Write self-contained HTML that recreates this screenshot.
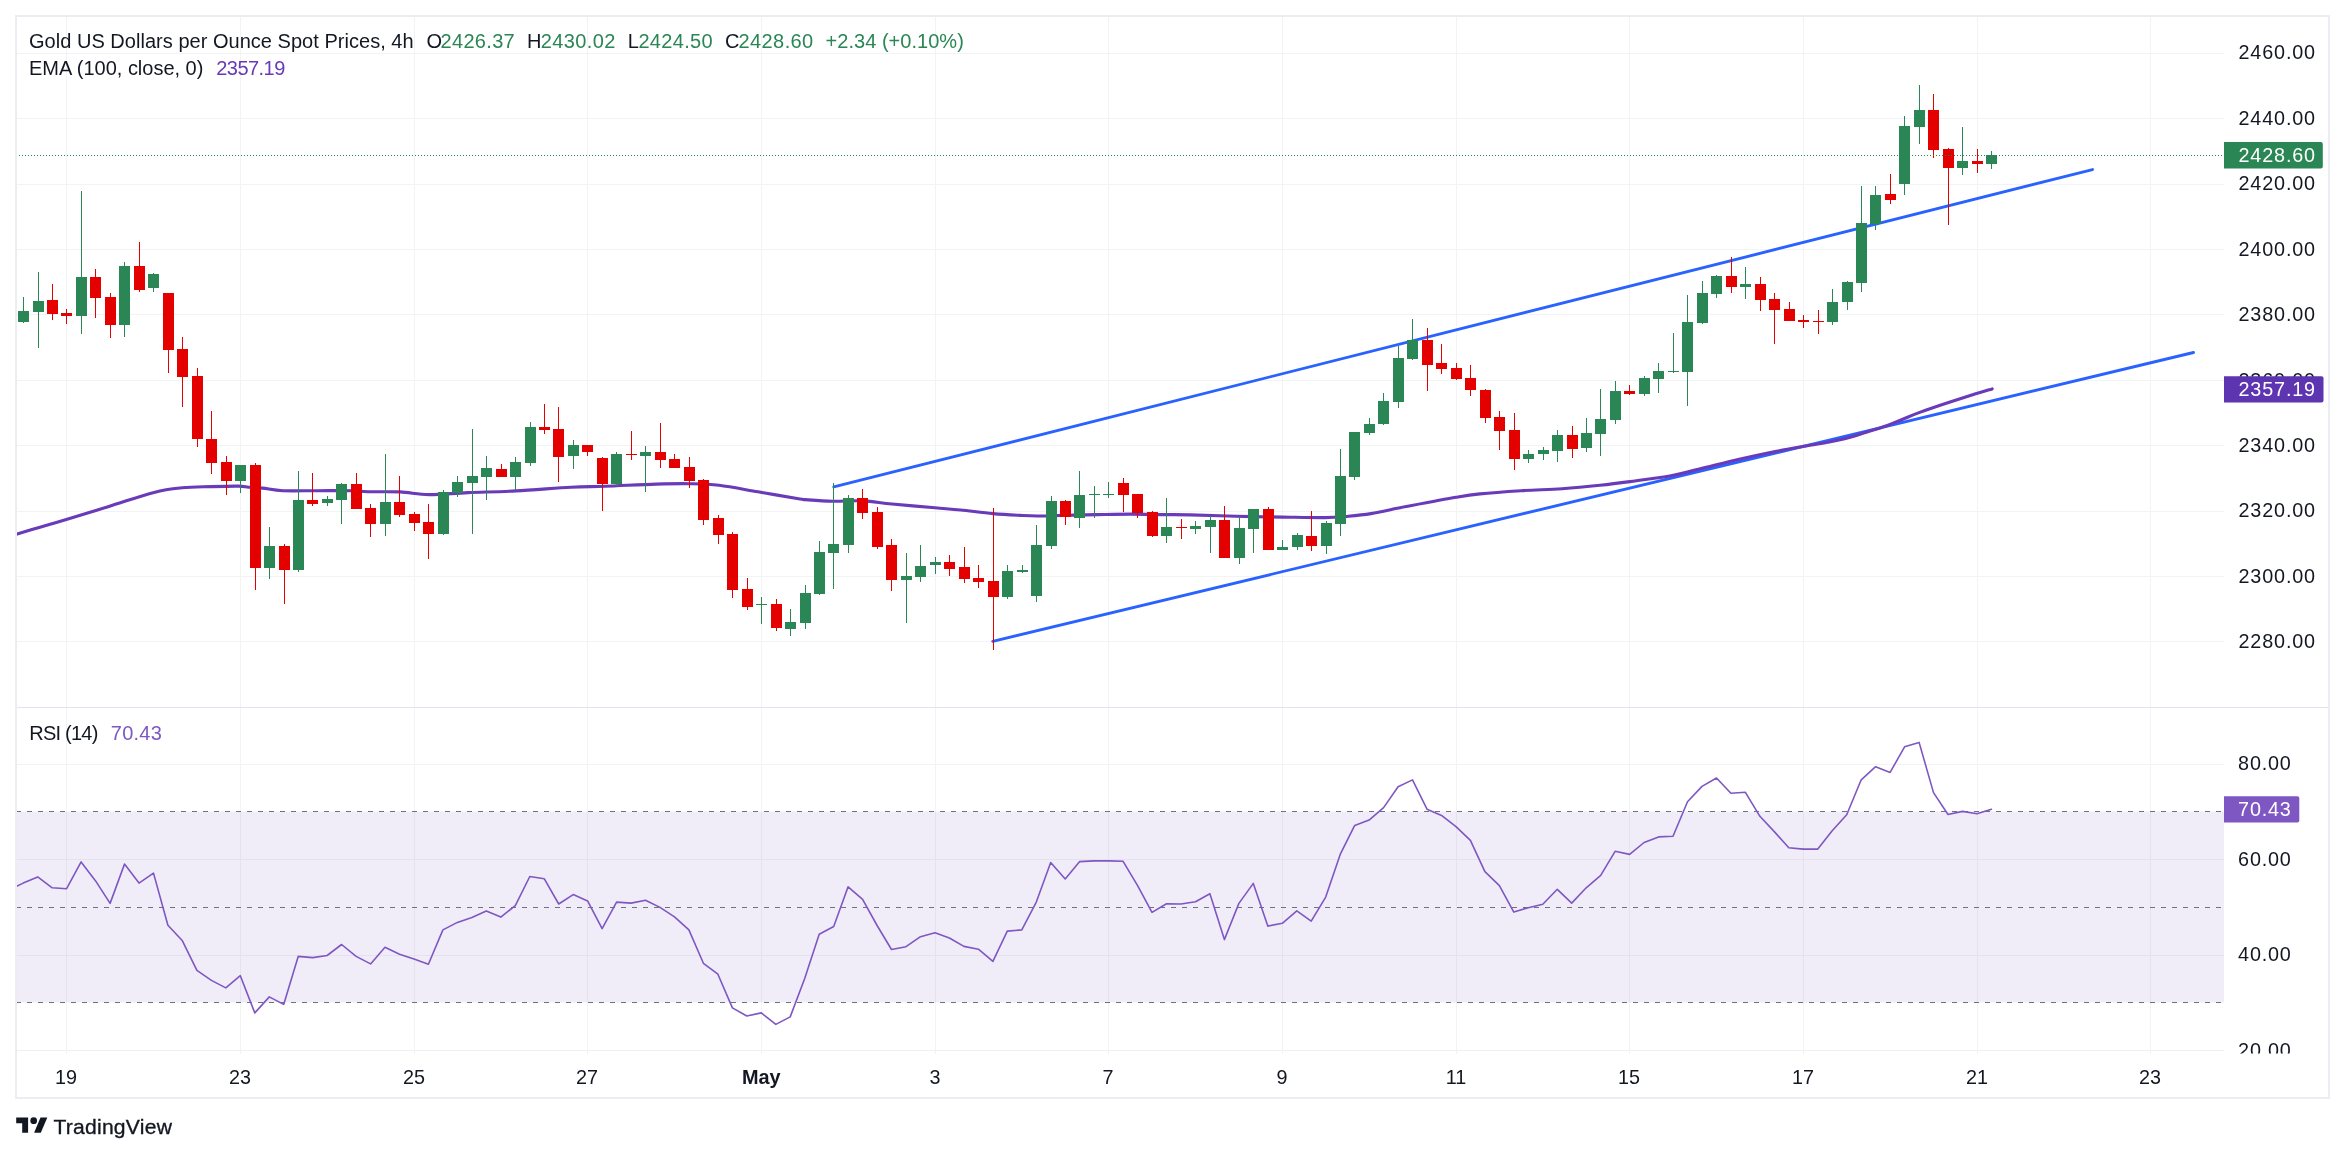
<!DOCTYPE html>
<html><head><meta charset="utf-8"><title>Gold chart</title>
<style>
html,body{margin:0;padding:0;background:#fff;}
body{width:2345px;height:1154px;position:relative;overflow:hidden;font-family:"Liberation Sans",sans-serif;}
</style></head><body>
<svg width="2345" height="1154" viewBox="0 0 2345 1154" style="position:absolute;left:0;top:0;will-change:transform">
<rect x="0" y="0" width="2345" height="1154" fill="#ffffff"/>
<g shape-rendering="crispEdges">
<rect x="66" y="16" width="1" height="1038" fill="#f2f3f4"/>
<rect x="240" y="16" width="1" height="1038" fill="#f2f3f4"/>
<rect x="414" y="16" width="1" height="1038" fill="#f2f3f4"/>
<rect x="587" y="16" width="1" height="1038" fill="#f2f3f4"/>
<rect x="761" y="16" width="1" height="1038" fill="#f2f3f4"/>
<rect x="935" y="16" width="1" height="1038" fill="#f2f3f4"/>
<rect x="1108" y="16" width="1" height="1038" fill="#f2f3f4"/>
<rect x="1282" y="16" width="1" height="1038" fill="#f2f3f4"/>
<rect x="1456" y="16" width="1" height="1038" fill="#f2f3f4"/>
<rect x="1629" y="16" width="1" height="1038" fill="#f2f3f4"/>
<rect x="1803" y="16" width="1" height="1038" fill="#f2f3f4"/>
<rect x="1977" y="16" width="1" height="1038" fill="#f2f3f4"/>
<rect x="2150" y="16" width="1" height="1038" fill="#f2f3f4"/>
<rect x="16" y="53" width="2208" height="1" fill="#f2f3f4"/>
<rect x="16" y="118" width="2208" height="1" fill="#f2f3f4"/>
<rect x="16" y="184" width="2208" height="1" fill="#f2f3f4"/>
<rect x="16" y="249" width="2208" height="1" fill="#f2f3f4"/>
<rect x="16" y="314" width="2208" height="1" fill="#f2f3f4"/>
<rect x="16" y="380" width="2208" height="1" fill="#f2f3f4"/>
<rect x="16" y="445" width="2208" height="1" fill="#f2f3f4"/>
<rect x="16" y="511" width="2208" height="1" fill="#f2f3f4"/>
<rect x="16" y="576" width="2208" height="1" fill="#f2f3f4"/>
<rect x="16" y="641" width="2208" height="1" fill="#f2f3f4"/>
<rect x="16" y="764" width="2208" height="1" fill="#f2f3f4"/>
<rect x="16" y="859" width="2208" height="1" fill="#f2f3f4"/>
<rect x="16" y="955" width="2208" height="1" fill="#f2f3f4"/>
</g>
<rect x="16" y="811.5" width="2208" height="191" fill="rgba(126,87,194,0.11)"/>
<g shape-rendering="crispEdges">
<rect x="16" y="707" width="2313" height="1" fill="#e1e4ec"/>
<rect x="16" y="1050" width="2208" height="1" fill="#eef0f3"/>
</g>
<line x1="16" y1="811.5" x2="2224" y2="811.5" stroke="#6f717b" stroke-width="1.2" stroke-dasharray="5 6"/>
<line x1="16" y1="907.5" x2="2224" y2="907.5" stroke="#6f717b" stroke-width="1.2" stroke-dasharray="5 6"/>
<line x1="16" y1="1002.5" x2="2224" y2="1002.5" stroke="#6f717b" stroke-width="1.2" stroke-dasharray="5 6"/>
<clipPath id="cp"><rect x="16" y="16" width="2208" height="1034"/></clipPath>
<polyline clip-path="url(#cp)" points="8.8,890.0 23.2,883.1 37.7,876.9 52.2,887.8 66.6,888.7 81.1,861.9 95.6,880.9 110.1,903.4 124.5,864.1 139.0,883.1 153.5,873.1 167.9,925.2 182.4,940.8 196.9,970.4 211.4,980.4 225.8,987.9 240.3,975.7 254.8,1012.9 269.3,996.9 283.7,1004.4 298.2,956.4 312.7,957.6 327.1,955.5 341.6,944.5 356.1,956.4 370.6,963.9 385.0,947.3 399.5,954.2 414.0,958.9 428.4,964.2 442.9,929.9 457.4,922.4 471.9,917.4 486.3,910.9 500.8,917.1 515.3,905.6 529.8,876.5 544.2,878.7 558.7,904.0 573.2,894.6 587.6,900.9 602.1,928.6 616.6,902.1 631.1,903.1 645.5,900.2 660.0,907.4 674.5,916.8 688.9,929.9 703.4,963.3 717.9,974.2 732.4,1007.9 746.8,1016.0 761.3,1012.9 775.8,1024.4 790.2,1016.9 804.7,978.5 819.2,934.2 833.7,926.5 848.1,886.8 862.6,899.3 877.1,925.5 891.5,949.5 906.0,946.7 920.5,936.7 935.0,932.7 949.4,938.0 963.9,946.4 978.4,949.2 992.9,961.4 1007.3,931.1 1021.8,929.9 1036.3,902.1 1050.7,862.5 1065.2,879.0 1079.7,861.6 1094.2,860.9 1108.6,860.9 1123.1,861.3 1137.6,885.6 1152.0,912.4 1166.5,903.7 1181.0,904.0 1195.5,901.8 1209.9,893.7 1224.4,939.6 1238.9,903.4 1253.3,883.4 1267.8,926.1 1282.3,923.3 1296.8,910.9 1311.2,921.1 1325.7,897.1 1340.2,854.4 1354.7,825.4 1369.1,820.1 1383.6,807.6 1398.1,786.8 1412.5,779.9 1427.0,809.2 1441.5,815.4 1456.0,826.6 1470.4,840.4 1484.9,871.6 1499.4,885.6 1513.8,912.1 1528.3,907.7 1542.8,904.3 1557.3,889.3 1571.7,903.1 1586.2,887.8 1600.7,875.3 1615.1,851.3 1629.6,854.4 1644.1,842.5 1658.6,836.9 1673.0,836.3 1687.5,801.7 1702.0,786.4 1716.5,778.0 1730.9,793.3 1745.4,792.3 1759.9,816.3 1774.3,831.6 1788.8,847.8 1803.3,849.1 1817.8,849.1 1832.2,830.7 1846.7,814.8 1861.2,779.8 1875.6,766.7 1890.1,772.4 1904.6,746.8 1919.1,742.4 1933.5,792.6 1948.0,814.5 1962.5,811.4 1977.0,813.8 1991.4,809.2" fill="none" stroke="#7e57c2" stroke-width="1.6" stroke-linejoin="round" stroke-linecap="round"/>
<line x1="833.8" y1="486.8" x2="2092.5" y2="169.6" stroke="#2962ff" stroke-width="2.9" stroke-linecap="round"/>
<line x1="992.8" y1="641.3" x2="2193.5" y2="352.5" stroke="#2962ff" stroke-width="2.9" stroke-linecap="round"/>
<path clip-path="url(#cp)" d="M15.0,534.6 C19.2,533.4 31.5,529.7 40.0,527.2 C48.5,524.7 54.8,522.9 66.3,519.4 C77.8,515.9 94.3,510.9 108.9,506.4 C123.5,501.9 141.9,495.5 154.1,492.4 C166.3,489.3 172.8,488.8 182.3,487.8 C191.8,486.8 201.9,486.9 211.3,486.6 C220.7,486.3 232.3,486.0 238.6,486.1 C244.8,486.2 244.8,487.0 248.8,487.3 C252.8,487.6 256.8,487.5 262.5,488.1 C268.2,488.7 273.8,490.3 282.9,490.7 C292.0,491.1 305.6,490.7 317.0,490.7 C328.4,490.7 342.5,490.5 351.0,490.7 C359.5,490.9 359.8,491.5 368.0,491.7 C376.2,491.9 389.8,491.4 400.0,491.9 C410.2,492.4 417.7,494.5 429.0,494.6 C440.3,494.7 453.5,493.2 468.0,492.6 C482.5,492.0 498.8,491.8 516.0,490.9 C533.2,490.0 556.2,488.0 571.0,487.2 C585.8,486.4 590.8,486.8 605.0,486.3 C619.2,485.8 641.8,484.5 656.0,484.1 C670.2,483.7 679.5,483.5 690.0,483.7 C700.5,483.9 707.7,483.9 719.0,485.3 C730.3,486.7 744.5,489.5 758.0,491.8 C771.5,494.1 792.2,497.7 800.0,499.0 C807.8,500.3 799.6,499.2 805.0,499.6 C810.4,500.0 822.9,501.1 832.6,501.3 C842.3,501.5 853.1,500.4 863.0,500.9 C872.9,501.3 880.0,502.9 892.0,504.0 C904.0,505.1 923.6,506.8 935.0,507.8 C946.4,508.8 950.9,509.0 960.6,510.0 C970.3,511.0 983.1,512.7 993.0,513.6 C1002.9,514.5 1012.7,515.0 1020.0,515.4 C1027.3,515.8 1029.8,516.0 1037.0,516.0 C1044.2,516.0 1053.0,515.6 1063.0,515.4 C1073.0,515.2 1085.7,514.8 1097.0,514.6 C1108.3,514.4 1119.7,514.1 1131.0,514.1 C1142.3,514.1 1155.2,514.5 1165.0,514.6 C1174.8,514.7 1178.2,514.6 1190.0,514.9 C1201.8,515.2 1220.7,515.9 1236.0,516.3 C1251.3,516.7 1267.2,516.9 1282.0,517.1 C1296.8,517.3 1314.5,517.7 1325.0,517.6 C1335.5,517.5 1337.3,517.2 1345.0,516.5 C1352.7,515.8 1360.8,515.2 1371.0,513.6 C1381.2,512.0 1391.8,509.3 1406.0,506.6 C1420.2,503.9 1443.7,499.4 1456.0,497.3 C1468.3,495.2 1469.2,495.0 1480.0,493.9 C1490.8,492.8 1507.3,491.6 1521.0,490.7 C1534.7,489.8 1548.8,489.6 1562.0,488.7 C1575.2,487.8 1588.7,486.5 1600.0,485.3 C1611.3,484.1 1618.2,483.2 1630.0,481.6 C1641.8,480.0 1659.6,477.8 1671.0,475.7 C1682.4,473.6 1686.9,472.0 1698.3,469.3 C1709.7,466.6 1726.2,462.3 1739.2,459.3 C1752.2,456.3 1765.7,453.5 1776.5,451.3 C1787.3,449.1 1795.3,447.8 1803.8,446.3 C1812.3,444.8 1820.8,443.6 1827.6,442.3 C1834.4,441.1 1838.1,440.5 1844.7,438.8 C1851.3,437.1 1859.9,434.2 1867.0,432.0 C1874.1,429.8 1881.3,427.6 1887.3,425.5 C1893.2,423.4 1897.3,421.4 1902.7,419.2 C1908.1,417.0 1912.3,415.1 1919.7,412.4 C1927.1,409.7 1938.2,405.9 1947.0,403.0 C1955.8,400.1 1965.1,397.2 1972.6,394.8 C1980.1,392.4 1988.9,389.9 1992.2,388.9" fill="none" stroke="#6a3bb8" stroke-width="3.1" stroke-linecap="round" stroke-linejoin="round"/>
<g shape-rendering="crispEdges">
<rect x="23" y="297" width="1" height="26" fill="#2a8654"/>
<rect x="18" y="311" width="11" height="11" fill="#2a8654"/>
<rect x="38" y="272" width="1" height="76" fill="#2a8654"/>
<rect x="33" y="301" width="11" height="11" fill="#2a8654"/>
<rect x="52" y="284" width="1" height="36" fill="#e50000"/>
<rect x="47" y="300" width="11" height="14" fill="#e50000"/>
<rect x="66" y="309" width="1" height="15" fill="#e50000"/>
<rect x="61" y="313" width="11" height="3" fill="#e50000"/>
<rect x="81" y="191" width="1" height="143" fill="#2a8654"/>
<rect x="76" y="277" width="11" height="39" fill="#2a8654"/>
<rect x="95" y="269" width="1" height="49" fill="#e50000"/>
<rect x="90" y="277" width="11" height="21" fill="#e50000"/>
<rect x="110" y="293" width="1" height="45" fill="#e50000"/>
<rect x="105" y="297" width="11" height="28" fill="#e50000"/>
<rect x="124" y="262" width="1" height="75" fill="#2a8654"/>
<rect x="119" y="266" width="11" height="59" fill="#2a8654"/>
<rect x="139" y="242" width="1" height="50" fill="#e50000"/>
<rect x="134" y="266" width="11" height="24" fill="#e50000"/>
<rect x="153" y="273" width="1" height="19" fill="#2a8654"/>
<rect x="148" y="274" width="11" height="14" fill="#2a8654"/>
<rect x="168" y="293" width="1" height="80" fill="#e50000"/>
<rect x="163" y="293" width="11" height="57" fill="#e50000"/>
<rect x="182" y="337" width="1" height="70" fill="#e50000"/>
<rect x="177" y="349" width="11" height="28" fill="#e50000"/>
<rect x="197" y="368" width="1" height="79" fill="#e50000"/>
<rect x="192" y="376" width="11" height="63" fill="#e50000"/>
<rect x="211" y="411" width="1" height="63" fill="#e50000"/>
<rect x="206" y="439" width="11" height="24" fill="#e50000"/>
<rect x="226" y="456" width="1" height="39" fill="#e50000"/>
<rect x="221" y="462" width="11" height="19" fill="#e50000"/>
<rect x="240" y="465" width="1" height="28" fill="#2a8654"/>
<rect x="235" y="465" width="11" height="16" fill="#2a8654"/>
<rect x="255" y="463" width="1" height="127" fill="#e50000"/>
<rect x="250" y="465" width="11" height="103" fill="#e50000"/>
<rect x="269" y="527" width="1" height="52" fill="#2a8654"/>
<rect x="264" y="546" width="11" height="22" fill="#2a8654"/>
<rect x="284" y="544" width="1" height="60" fill="#e50000"/>
<rect x="279" y="546" width="11" height="24" fill="#e50000"/>
<rect x="298" y="471" width="1" height="101" fill="#2a8654"/>
<rect x="293" y="500" width="11" height="70" fill="#2a8654"/>
<rect x="312" y="473" width="1" height="33" fill="#e50000"/>
<rect x="307" y="500" width="11" height="4" fill="#e50000"/>
<rect x="327" y="496" width="1" height="10" fill="#2a8654"/>
<rect x="322" y="499" width="11" height="4" fill="#2a8654"/>
<rect x="341" y="483" width="1" height="41" fill="#2a8654"/>
<rect x="336" y="484" width="11" height="16" fill="#2a8654"/>
<rect x="356" y="473" width="1" height="36" fill="#e50000"/>
<rect x="351" y="484" width="11" height="25" fill="#e50000"/>
<rect x="370" y="504" width="1" height="33" fill="#e50000"/>
<rect x="365" y="508" width="11" height="16" fill="#e50000"/>
<rect x="385" y="454" width="1" height="82" fill="#2a8654"/>
<rect x="380" y="502" width="11" height="22" fill="#2a8654"/>
<rect x="399" y="476" width="1" height="41" fill="#e50000"/>
<rect x="394" y="502" width="11" height="13" fill="#e50000"/>
<rect x="414" y="512" width="1" height="19" fill="#e50000"/>
<rect x="409" y="514" width="11" height="9" fill="#e50000"/>
<rect x="428" y="504" width="1" height="55" fill="#e50000"/>
<rect x="423" y="522" width="11" height="12" fill="#e50000"/>
<rect x="443" y="490" width="1" height="45" fill="#2a8654"/>
<rect x="438" y="492" width="11" height="42" fill="#2a8654"/>
<rect x="457" y="476" width="1" height="21" fill="#2a8654"/>
<rect x="452" y="482" width="11" height="11" fill="#2a8654"/>
<rect x="472" y="429" width="1" height="105" fill="#2a8654"/>
<rect x="467" y="476" width="11" height="7" fill="#2a8654"/>
<rect x="486" y="456" width="1" height="44" fill="#2a8654"/>
<rect x="481" y="468" width="11" height="9" fill="#2a8654"/>
<rect x="501" y="464" width="1" height="13" fill="#e50000"/>
<rect x="496" y="469" width="11" height="8" fill="#e50000"/>
<rect x="515" y="457" width="1" height="33" fill="#2a8654"/>
<rect x="510" y="462" width="11" height="15" fill="#2a8654"/>
<rect x="530" y="422" width="1" height="44" fill="#2a8654"/>
<rect x="525" y="427" width="11" height="36" fill="#2a8654"/>
<rect x="544" y="404" width="1" height="30" fill="#e50000"/>
<rect x="539" y="427" width="11" height="3" fill="#e50000"/>
<rect x="558" y="407" width="1" height="75" fill="#e50000"/>
<rect x="553" y="429" width="11" height="28" fill="#e50000"/>
<rect x="573" y="440" width="1" height="29" fill="#2a8654"/>
<rect x="568" y="445" width="11" height="11" fill="#2a8654"/>
<rect x="587" y="445" width="1" height="11" fill="#e50000"/>
<rect x="582" y="445" width="11" height="7" fill="#e50000"/>
<rect x="602" y="457" width="1" height="54" fill="#e50000"/>
<rect x="597" y="458" width="11" height="26" fill="#e50000"/>
<rect x="616" y="452" width="1" height="34" fill="#2a8654"/>
<rect x="611" y="454" width="11" height="30" fill="#2a8654"/>
<rect x="631" y="431" width="1" height="29" fill="#e50000"/>
<rect x="626" y="454" width="11" height="1" fill="#e50000"/>
<rect x="645" y="446" width="1" height="46" fill="#2a8654"/>
<rect x="640" y="452" width="11" height="4" fill="#2a8654"/>
<rect x="660" y="423" width="1" height="45" fill="#e50000"/>
<rect x="655" y="452" width="11" height="8" fill="#e50000"/>
<rect x="674" y="454" width="1" height="14" fill="#e50000"/>
<rect x="669" y="459" width="11" height="9" fill="#e50000"/>
<rect x="689" y="457" width="1" height="31" fill="#e50000"/>
<rect x="684" y="467" width="11" height="14" fill="#e50000"/>
<rect x="703" y="479" width="1" height="46" fill="#e50000"/>
<rect x="698" y="480" width="11" height="40" fill="#e50000"/>
<rect x="718" y="515" width="1" height="29" fill="#e50000"/>
<rect x="713" y="518" width="11" height="17" fill="#e50000"/>
<rect x="732" y="532" width="1" height="66" fill="#e50000"/>
<rect x="727" y="534" width="11" height="56" fill="#e50000"/>
<rect x="747" y="578" width="1" height="32" fill="#e50000"/>
<rect x="742" y="589" width="11" height="18" fill="#e50000"/>
<rect x="761" y="597" width="1" height="27" fill="#2a8654"/>
<rect x="756" y="604" width="11" height="1" fill="#2a8654"/>
<rect x="776" y="599" width="1" height="32" fill="#e50000"/>
<rect x="771" y="604" width="11" height="24" fill="#e50000"/>
<rect x="790" y="609" width="1" height="27" fill="#2a8654"/>
<rect x="785" y="622" width="11" height="7" fill="#2a8654"/>
<rect x="805" y="585" width="1" height="44" fill="#2a8654"/>
<rect x="800" y="593" width="11" height="30" fill="#2a8654"/>
<rect x="819" y="541" width="1" height="54" fill="#2a8654"/>
<rect x="814" y="552" width="11" height="42" fill="#2a8654"/>
<rect x="833" y="483" width="1" height="106" fill="#2a8654"/>
<rect x="828" y="544" width="11" height="9" fill="#2a8654"/>
<rect x="848" y="495" width="1" height="58" fill="#2a8654"/>
<rect x="843" y="498" width="11" height="47" fill="#2a8654"/>
<rect x="862" y="489" width="1" height="30" fill="#e50000"/>
<rect x="857" y="498" width="11" height="15" fill="#e50000"/>
<rect x="877" y="507" width="1" height="42" fill="#e50000"/>
<rect x="872" y="512" width="11" height="35" fill="#e50000"/>
<rect x="891" y="539" width="1" height="52" fill="#e50000"/>
<rect x="886" y="545" width="11" height="35" fill="#e50000"/>
<rect x="906" y="553" width="1" height="70" fill="#2a8654"/>
<rect x="901" y="576" width="11" height="4" fill="#2a8654"/>
<rect x="920" y="545" width="1" height="37" fill="#2a8654"/>
<rect x="915" y="566" width="11" height="11" fill="#2a8654"/>
<rect x="935" y="557" width="1" height="17" fill="#2a8654"/>
<rect x="930" y="562" width="11" height="3" fill="#2a8654"/>
<rect x="949" y="555" width="1" height="21" fill="#e50000"/>
<rect x="944" y="562" width="11" height="7" fill="#e50000"/>
<rect x="964" y="547" width="1" height="36" fill="#e50000"/>
<rect x="959" y="567" width="11" height="12" fill="#e50000"/>
<rect x="978" y="565" width="1" height="23" fill="#e50000"/>
<rect x="973" y="578" width="11" height="4" fill="#e50000"/>
<rect x="993" y="508" width="1" height="142" fill="#e50000"/>
<rect x="988" y="581" width="11" height="16" fill="#e50000"/>
<rect x="1007" y="565" width="1" height="34" fill="#2a8654"/>
<rect x="1002" y="571" width="11" height="26" fill="#2a8654"/>
<rect x="1022" y="565" width="1" height="8" fill="#2a8654"/>
<rect x="1017" y="570" width="11" height="2" fill="#2a8654"/>
<rect x="1036" y="525" width="1" height="77" fill="#2a8654"/>
<rect x="1031" y="545" width="11" height="51" fill="#2a8654"/>
<rect x="1051" y="496" width="1" height="53" fill="#2a8654"/>
<rect x="1046" y="501" width="11" height="45" fill="#2a8654"/>
<rect x="1065" y="500" width="1" height="25" fill="#e50000"/>
<rect x="1060" y="501" width="11" height="16" fill="#e50000"/>
<rect x="1079" y="471" width="1" height="57" fill="#2a8654"/>
<rect x="1074" y="495" width="11" height="23" fill="#2a8654"/>
<rect x="1094" y="486" width="1" height="32" fill="#2a8654"/>
<rect x="1089" y="494" width="11" height="1" fill="#2a8654"/>
<rect x="1108" y="482" width="1" height="16" fill="#2a8654"/>
<rect x="1103" y="494" width="11" height="1" fill="#2a8654"/>
<rect x="1123" y="478" width="1" height="34" fill="#e50000"/>
<rect x="1118" y="483" width="11" height="12" fill="#e50000"/>
<rect x="1137" y="494" width="1" height="24" fill="#e50000"/>
<rect x="1132" y="494" width="11" height="19" fill="#e50000"/>
<rect x="1152" y="511" width="1" height="26" fill="#e50000"/>
<rect x="1147" y="512" width="11" height="24" fill="#e50000"/>
<rect x="1166" y="498" width="1" height="45" fill="#2a8654"/>
<rect x="1161" y="527" width="11" height="9" fill="#2a8654"/>
<rect x="1181" y="519" width="1" height="20" fill="#e50000"/>
<rect x="1176" y="527" width="11" height="1" fill="#e50000"/>
<rect x="1195" y="521" width="1" height="13" fill="#2a8654"/>
<rect x="1190" y="526" width="11" height="3" fill="#2a8654"/>
<rect x="1210" y="516" width="1" height="37" fill="#2a8654"/>
<rect x="1205" y="520" width="11" height="7" fill="#2a8654"/>
<rect x="1224" y="506" width="1" height="52" fill="#e50000"/>
<rect x="1219" y="520" width="11" height="38" fill="#e50000"/>
<rect x="1239" y="517" width="1" height="47" fill="#2a8654"/>
<rect x="1234" y="528" width="11" height="30" fill="#2a8654"/>
<rect x="1253" y="509" width="1" height="44" fill="#2a8654"/>
<rect x="1248" y="509" width="11" height="20" fill="#2a8654"/>
<rect x="1268" y="507" width="1" height="43" fill="#e50000"/>
<rect x="1263" y="509" width="11" height="41" fill="#e50000"/>
<rect x="1282" y="540" width="1" height="10" fill="#2a8654"/>
<rect x="1277" y="547" width="11" height="3" fill="#2a8654"/>
<rect x="1297" y="533" width="1" height="17" fill="#2a8654"/>
<rect x="1292" y="535" width="11" height="12" fill="#2a8654"/>
<rect x="1311" y="511" width="1" height="40" fill="#e50000"/>
<rect x="1306" y="536" width="11" height="10" fill="#e50000"/>
<rect x="1326" y="521" width="1" height="33" fill="#2a8654"/>
<rect x="1321" y="523" width="11" height="23" fill="#2a8654"/>
<rect x="1340" y="449" width="1" height="87" fill="#2a8654"/>
<rect x="1335" y="476" width="11" height="48" fill="#2a8654"/>
<rect x="1354" y="432" width="1" height="48" fill="#2a8654"/>
<rect x="1349" y="432" width="11" height="45" fill="#2a8654"/>
<rect x="1369" y="418" width="1" height="17" fill="#2a8654"/>
<rect x="1364" y="424" width="11" height="9" fill="#2a8654"/>
<rect x="1383" y="393" width="1" height="32" fill="#2a8654"/>
<rect x="1378" y="401" width="11" height="23" fill="#2a8654"/>
<rect x="1398" y="346" width="1" height="62" fill="#2a8654"/>
<rect x="1393" y="358" width="11" height="44" fill="#2a8654"/>
<rect x="1412" y="319" width="1" height="41" fill="#2a8654"/>
<rect x="1407" y="340" width="11" height="19" fill="#2a8654"/>
<rect x="1427" y="328" width="1" height="63" fill="#e50000"/>
<rect x="1422" y="340" width="11" height="25" fill="#e50000"/>
<rect x="1441" y="344" width="1" height="30" fill="#e50000"/>
<rect x="1436" y="363" width="11" height="6" fill="#e50000"/>
<rect x="1456" y="363" width="1" height="17" fill="#e50000"/>
<rect x="1451" y="368" width="11" height="11" fill="#e50000"/>
<rect x="1470" y="365" width="1" height="31" fill="#e50000"/>
<rect x="1465" y="378" width="11" height="12" fill="#e50000"/>
<rect x="1485" y="389" width="1" height="34" fill="#e50000"/>
<rect x="1480" y="390" width="11" height="28" fill="#e50000"/>
<rect x="1499" y="411" width="1" height="39" fill="#e50000"/>
<rect x="1494" y="417" width="11" height="14" fill="#e50000"/>
<rect x="1514" y="413" width="1" height="57" fill="#e50000"/>
<rect x="1509" y="430" width="11" height="29" fill="#e50000"/>
<rect x="1528" y="450" width="1" height="13" fill="#2a8654"/>
<rect x="1523" y="454" width="11" height="5" fill="#2a8654"/>
<rect x="1543" y="447" width="1" height="13" fill="#2a8654"/>
<rect x="1538" y="450" width="11" height="4" fill="#2a8654"/>
<rect x="1557" y="430" width="1" height="32" fill="#2a8654"/>
<rect x="1552" y="435" width="11" height="16" fill="#2a8654"/>
<rect x="1572" y="426" width="1" height="32" fill="#e50000"/>
<rect x="1567" y="435" width="11" height="14" fill="#e50000"/>
<rect x="1586" y="418" width="1" height="34" fill="#2a8654"/>
<rect x="1581" y="433" width="11" height="15" fill="#2a8654"/>
<rect x="1600" y="389" width="1" height="67" fill="#2a8654"/>
<rect x="1595" y="419" width="11" height="15" fill="#2a8654"/>
<rect x="1615" y="381" width="1" height="43" fill="#2a8654"/>
<rect x="1610" y="391" width="11" height="29" fill="#2a8654"/>
<rect x="1629" y="385" width="1" height="10" fill="#e50000"/>
<rect x="1624" y="391" width="11" height="3" fill="#e50000"/>
<rect x="1644" y="376" width="1" height="20" fill="#2a8654"/>
<rect x="1639" y="378" width="11" height="16" fill="#2a8654"/>
<rect x="1658" y="363" width="1" height="30" fill="#2a8654"/>
<rect x="1653" y="371" width="11" height="8" fill="#2a8654"/>
<rect x="1673" y="333" width="1" height="40" fill="#2a8654"/>
<rect x="1668" y="371" width="11" height="1" fill="#2a8654"/>
<rect x="1687" y="295" width="1" height="111" fill="#2a8654"/>
<rect x="1682" y="322" width="11" height="50" fill="#2a8654"/>
<rect x="1702" y="281" width="1" height="43" fill="#2a8654"/>
<rect x="1697" y="293" width="11" height="30" fill="#2a8654"/>
<rect x="1716" y="275" width="1" height="23" fill="#2a8654"/>
<rect x="1711" y="276" width="11" height="18" fill="#2a8654"/>
<rect x="1731" y="257" width="1" height="36" fill="#e50000"/>
<rect x="1726" y="276" width="11" height="11" fill="#e50000"/>
<rect x="1745" y="267" width="1" height="32" fill="#2a8654"/>
<rect x="1740" y="284" width="11" height="3" fill="#2a8654"/>
<rect x="1760" y="277" width="1" height="34" fill="#e50000"/>
<rect x="1755" y="284" width="11" height="16" fill="#e50000"/>
<rect x="1774" y="293" width="1" height="51" fill="#e50000"/>
<rect x="1769" y="299" width="11" height="11" fill="#e50000"/>
<rect x="1789" y="302" width="1" height="19" fill="#e50000"/>
<rect x="1784" y="309" width="11" height="12" fill="#e50000"/>
<rect x="1803" y="315" width="1" height="13" fill="#e50000"/>
<rect x="1798" y="320" width="11" height="2" fill="#e50000"/>
<rect x="1818" y="310" width="1" height="24" fill="#e50000"/>
<rect x="1813" y="321" width="11" height="1" fill="#e50000"/>
<rect x="1832" y="289" width="1" height="36" fill="#2a8654"/>
<rect x="1827" y="302" width="11" height="20" fill="#2a8654"/>
<rect x="1847" y="281" width="1" height="29" fill="#2a8654"/>
<rect x="1842" y="282" width="11" height="20" fill="#2a8654"/>
<rect x="1861" y="186" width="1" height="106" fill="#2a8654"/>
<rect x="1856" y="223" width="11" height="60" fill="#2a8654"/>
<rect x="1875" y="186" width="1" height="44" fill="#2a8654"/>
<rect x="1870" y="195" width="11" height="29" fill="#2a8654"/>
<rect x="1890" y="174" width="1" height="30" fill="#e50000"/>
<rect x="1885" y="194" width="11" height="6" fill="#e50000"/>
<rect x="1904" y="116" width="1" height="79" fill="#2a8654"/>
<rect x="1899" y="126" width="11" height="58" fill="#2a8654"/>
<rect x="1919" y="85" width="1" height="59" fill="#2a8654"/>
<rect x="1914" y="110" width="11" height="17" fill="#2a8654"/>
<rect x="1933" y="94" width="1" height="64" fill="#e50000"/>
<rect x="1928" y="110" width="11" height="40" fill="#e50000"/>
<rect x="1948" y="148" width="1" height="77" fill="#e50000"/>
<rect x="1943" y="149" width="11" height="19" fill="#e50000"/>
<rect x="1962" y="127" width="1" height="48" fill="#2a8654"/>
<rect x="1957" y="161" width="11" height="7" fill="#2a8654"/>
<rect x="1977" y="149" width="1" height="24" fill="#e50000"/>
<rect x="1972" y="161" width="11" height="3" fill="#e50000"/>
<rect x="1991" y="151" width="1" height="18" fill="#2a8654"/>
<rect x="1986" y="155" width="11" height="9" fill="#2a8654"/>
</g>
<line x1="16" y1="155.5" x2="2224" y2="155.5" stroke="#2a8654" stroke-width="1" stroke-dasharray="1 2" shape-rendering="crispEdges"/>
<rect x="16" y="16" width="2313" height="1082" fill="none" stroke="#ecedf3" stroke-width="2"/>
<text x="2238.5" y="58.9" font-family="Liberation Sans, sans-serif" font-size="19.80" fill="#131722" text-anchor="start" font-weight="normal" textLength="76.6" lengthAdjust="spacing">2460.00</text>
<text x="2238.5" y="125.2" font-family="Liberation Sans, sans-serif" font-size="19.80" fill="#131722" text-anchor="start" font-weight="normal" textLength="76.6" lengthAdjust="spacing">2440.00</text>
<text x="2238.5" y="189.9" font-family="Liberation Sans, sans-serif" font-size="19.80" fill="#131722" text-anchor="start" font-weight="normal" textLength="76.6" lengthAdjust="spacing">2420.00</text>
<text x="2238.5" y="256.0" font-family="Liberation Sans, sans-serif" font-size="19.80" fill="#131722" text-anchor="start" font-weight="normal" textLength="76.6" lengthAdjust="spacing">2400.00</text>
<text x="2238.5" y="321.1" font-family="Liberation Sans, sans-serif" font-size="19.80" fill="#131722" text-anchor="start" font-weight="normal" textLength="76.6" lengthAdjust="spacing">2380.00</text>
<text x="2238.5" y="387.2" font-family="Liberation Sans, sans-serif" font-size="19.80" fill="#131722" text-anchor="start" font-weight="normal" textLength="76.6" lengthAdjust="spacing">2360.00</text>
<text x="2238.5" y="452.2" font-family="Liberation Sans, sans-serif" font-size="19.80" fill="#131722" text-anchor="start" font-weight="normal" textLength="76.6" lengthAdjust="spacing">2340.00</text>
<text x="2238.5" y="517.1" font-family="Liberation Sans, sans-serif" font-size="19.80" fill="#131722" text-anchor="start" font-weight="normal" textLength="76.6" lengthAdjust="spacing">2320.00</text>
<text x="2238.5" y="583.3" font-family="Liberation Sans, sans-serif" font-size="19.80" fill="#131722" text-anchor="start" font-weight="normal" textLength="76.6" lengthAdjust="spacing">2300.00</text>
<text x="2238.5" y="648.4" font-family="Liberation Sans, sans-serif" font-size="19.80" fill="#131722" text-anchor="start" font-weight="normal" textLength="76.6" lengthAdjust="spacing">2280.00</text>
<clipPath id="cp2"><rect x="2224" y="708" width="104" height="345.6"/></clipPath>
<text x="2238.1" y="770.2" font-family="Liberation Sans, sans-serif" font-size="19.80" fill="#131722" text-anchor="start" font-weight="normal" textLength="52.6" lengthAdjust="spacing" clip-path="url(#cp2)">80.00</text>
<text x="2238.1" y="865.8" font-family="Liberation Sans, sans-serif" font-size="19.80" fill="#131722" text-anchor="start" font-weight="normal" textLength="52.6" lengthAdjust="spacing" clip-path="url(#cp2)">60.00</text>
<text x="2238.1" y="961.1" font-family="Liberation Sans, sans-serif" font-size="19.80" fill="#131722" text-anchor="start" font-weight="normal" textLength="52.6" lengthAdjust="spacing" clip-path="url(#cp2)">40.00</text>
<text x="2238.1" y="1057.1" font-family="Liberation Sans, sans-serif" font-size="19.80" fill="#131722" text-anchor="start" font-weight="normal" textLength="52.6" lengthAdjust="spacing" clip-path="url(#cp2)">20.00</text>
<path d="M2224,142 h96.8 a2,2 0 0 1 2,2 v22.4 a2,2 0 0 1 -2,2 h-96.8 z" fill="#2a8654"/>
<text x="2238.5" y="161.8" font-family="Liberation Sans, sans-serif" font-size="19.80" fill="#ffffff" text-anchor="start" font-weight="normal" textLength="76.6" lengthAdjust="spacing">2428.60</text>
<path d="M2224,376.3 h97.5 a2,2 0 0 1 2,2 v22.2 a2,2 0 0 1 -2,2 h-97.5 z" fill="#5e35b1"/>
<text x="2238.5" y="396.1" font-family="Liberation Sans, sans-serif" font-size="19.80" fill="#ffffff" text-anchor="start" font-weight="normal" textLength="76.6" lengthAdjust="spacing">2357.19</text>
<path d="M2224,796.2 h73.3 a2,2 0 0 1 2,2 v22.4 a2,2 0 0 1 -2,2 h-73.3 z" fill="#7e57c2"/>
<text x="2238.1" y="815.9" font-family="Liberation Sans, sans-serif" font-size="19.80" fill="#ffffff" text-anchor="start" font-weight="normal" textLength="52.6" lengthAdjust="spacing">70.43</text>
<text x="65.9" y="1084.0" font-family="Liberation Sans, sans-serif" font-size="19.80" fill="#131722" text-anchor="middle" font-weight="normal">19</text>
<text x="239.9" y="1084.0" font-family="Liberation Sans, sans-serif" font-size="19.80" fill="#131722" text-anchor="middle" font-weight="normal">23</text>
<text x="413.9" y="1084.0" font-family="Liberation Sans, sans-serif" font-size="19.80" fill="#131722" text-anchor="middle" font-weight="normal">25</text>
<text x="586.9" y="1084.0" font-family="Liberation Sans, sans-serif" font-size="19.80" fill="#131722" text-anchor="middle" font-weight="normal">27</text>
<text x="761.3" y="1084.0" font-family="Liberation Sans, sans-serif" font-size="19.90" fill="#131722" text-anchor="middle" font-weight="bold">May</text>
<text x="934.9" y="1084.0" font-family="Liberation Sans, sans-serif" font-size="19.80" fill="#131722" text-anchor="middle" font-weight="normal">3</text>
<text x="1107.9" y="1084.0" font-family="Liberation Sans, sans-serif" font-size="19.80" fill="#131722" text-anchor="middle" font-weight="normal">7</text>
<text x="1281.9" y="1084.0" font-family="Liberation Sans, sans-serif" font-size="19.80" fill="#131722" text-anchor="middle" font-weight="normal">9</text>
<text x="1455.9" y="1084.0" font-family="Liberation Sans, sans-serif" font-size="19.80" fill="#131722" text-anchor="middle" font-weight="normal">11</text>
<text x="1628.9" y="1084.0" font-family="Liberation Sans, sans-serif" font-size="19.80" fill="#131722" text-anchor="middle" font-weight="normal">15</text>
<text x="1802.9" y="1084.0" font-family="Liberation Sans, sans-serif" font-size="19.80" fill="#131722" text-anchor="middle" font-weight="normal">17</text>
<text x="1976.9" y="1084.0" font-family="Liberation Sans, sans-serif" font-size="19.80" fill="#131722" text-anchor="middle" font-weight="normal">21</text>
<text x="2149.9" y="1084.0" font-family="Liberation Sans, sans-serif" font-size="19.80" fill="#131722" text-anchor="middle" font-weight="normal">23</text>
<text x="29.0" y="48.4" font-family="Liberation Sans, sans-serif" font-size="20.00" fill="#131722" text-anchor="start" font-weight="normal" textLength="384.6" lengthAdjust="spacing">Gold US Dollars per Ounce Spot Prices, 4h</text>
<text x="426.4" y="48.4" font-family="Liberation Sans, sans-serif" font-size="20.00" fill="#131722" text-anchor="start" font-weight="normal">O</text>
<text x="440.5" y="48.4" font-family="Liberation Sans, sans-serif" font-size="20.00" fill="#2a8654" text-anchor="start" font-weight="normal" textLength="74.2" lengthAdjust="spacing">2426.37</text>
<text x="527.1" y="48.4" font-family="Liberation Sans, sans-serif" font-size="20.00" fill="#131722" text-anchor="start" font-weight="normal">H</text>
<text x="540.7" y="48.4" font-family="Liberation Sans, sans-serif" font-size="20.00" fill="#2a8654" text-anchor="start" font-weight="normal" textLength="74.7" lengthAdjust="spacing">2430.02</text>
<text x="627.7" y="48.4" font-family="Liberation Sans, sans-serif" font-size="20.00" fill="#131722" text-anchor="start" font-weight="normal">L</text>
<text x="638.4" y="48.4" font-family="Liberation Sans, sans-serif" font-size="20.00" fill="#2a8654" text-anchor="start" font-weight="normal" textLength="74.2" lengthAdjust="spacing">2424.50</text>
<text x="725.0" y="48.4" font-family="Liberation Sans, sans-serif" font-size="20.00" fill="#131722" text-anchor="start" font-weight="normal">C</text>
<text x="738.6" y="48.4" font-family="Liberation Sans, sans-serif" font-size="20.00" fill="#2a8654" text-anchor="start" font-weight="normal" textLength="74.6" lengthAdjust="spacing">2428.60</text>
<text x="825.6" y="48.4" font-family="Liberation Sans, sans-serif" font-size="20.00" fill="#2a8654" text-anchor="start" font-weight="normal" textLength="138.2" lengthAdjust="spacing">+2.34 (+0.10%)</text>
<text x="29.0" y="75.4" font-family="Liberation Sans, sans-serif" font-size="20.00" fill="#131722" text-anchor="start" font-weight="normal" textLength="174.4" lengthAdjust="spacing">EMA (100, close, 0)</text>
<text x="216.2" y="75.4" font-family="Liberation Sans, sans-serif" font-size="20.00" fill="#673ab7" text-anchor="start" font-weight="normal" textLength="69.1" lengthAdjust="spacing">2357.19</text>
<text x="29.3" y="739.9" font-family="Liberation Sans, sans-serif" font-size="20.00" fill="#131722" text-anchor="start" font-weight="normal" textLength="69.0" lengthAdjust="spacing">RSI (14)</text>
<text x="110.8" y="739.9" font-family="Liberation Sans, sans-serif" font-size="20.00" fill="#7e57c2" text-anchor="start" font-weight="normal" textLength="51.0" lengthAdjust="spacing">70.43</text>
<g fill="#131722">
<path d="M16.2,1117.4 h11.9 v15.3 h-5.9 v-9.5 h-6.0 z"/>
<circle cx="33.7" cy="1120.7" r="3.35"/>
<path d="M40.5,1117.4 h6.8 l-6.5,15.3 h-6.7 z"/>
</g>
<text x="53.4" y="1133.5" font-family="Liberation Sans, sans-serif" font-size="21.10" fill="#131722" text-anchor="start" font-weight="normal" textLength="118.5" lengthAdjust="spacing" stroke="#131722" stroke-width="0.35">TradingView</text>
</svg>
</body></html>
